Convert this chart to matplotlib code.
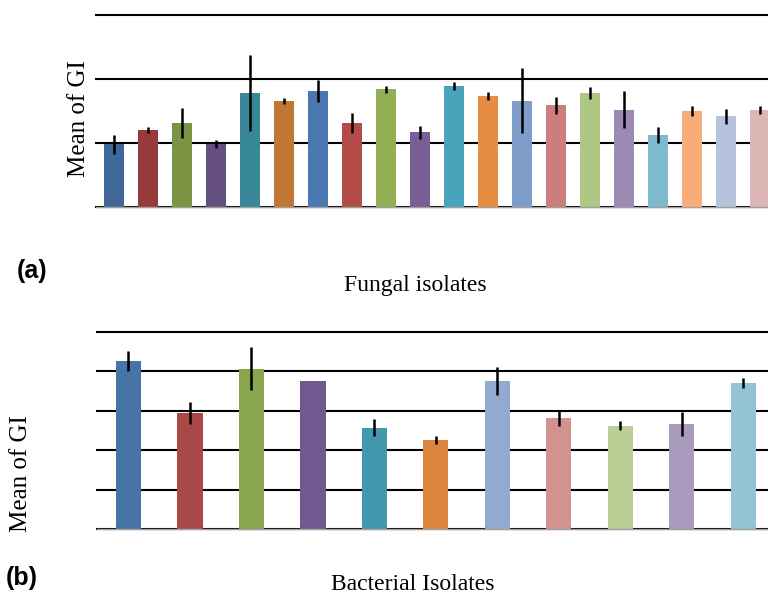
import matplotlib
matplotlib.use("Agg")
import matplotlib.pyplot as plt
import numpy as np

# Fungal isolates (panel a)
fungal_means = [0.98, 1.20, 1.31, 0.98, 1.78, 1.66, 1.81, 1.31, 1.84, 1.17,
                1.89, 1.73, 1.66, 1.59, 1.78, 1.52, 1.125, 1.50, 1.42, 1.52]
fungal_err = [0.145, 0.047, 0.23, 0.06, 0.60, 0.05, 0.175, 0.16, 0.055, 0.10,
              0.057, 0.06, 0.51, 0.13, 0.094, 0.29, 0.13, 0.083, 0.117, 0.06]
fungal_colors = ["#3F6797", "#953B39", "#7A9443", "#654F80", "#39889A",
                 "#C27633", "#4A78B0", "#B34B49", "#93AF54", "#7A5E98",
                 "#48A3BB", "#E78D41", "#7F9DC9", "#CB7E7D", "#AFC785",
                 "#9C8AB5", "#7EBACE", "#F8AC79", "#B5C3DD", "#DDB7B6"]

# Bacterial isolates (panel b)
bact_means = [4.27, 2.95, 4.07, 3.76, 2.57, 2.26, 3.76, 2.82, 2.62, 2.67, 3.71]
bact_err = [0.254, 0.275, 0.55, 0.0, 0.21, 0.11, 0.36, 0.21, 0.11, 0.31, 0.127]
bact_colors = ["#4674A6", "#A84947", "#89A54E", "#71598F", "#4298AF",
               "#DB843E", "#94A9CF", "#D29290", "#B9CF95", "#A89BBE", "#93C4D4"]

fig = plt.figure(figsize=(7.68, 6.05), dpi=100)
serif = "Liberation Serif"
sans = "Liberation Sans"

def style(ax, ymax):
    ax.set_ylim(0, ymax)
    ax.set_yticks(np.arange(0, ymax + 1))
    ax.set_xticks([])
    ax.tick_params(axis="y", length=0, labelleft=False)
    ax.yaxis.grid(True, color="black", linewidth=1.5)
    for gl in ax.get_ygridlines():
        gl.set_clip_on(False)
    ax.set_axisbelow(True)
    for s in ["top", "left", "right"]:
        ax.spines[s].set_visible(False)
    ax.spines["bottom"].set_color("#A0A0A0")
    ax.spines["bottom"].set_linewidth(1.0)

# Top panel
ax1 = fig.add_axes([96 / 768, (605 - 207) / 605, 681 / 768, 192 / 605])
x1 = np.arange(len(fungal_means))
ax1.bar(x1, fungal_means, width=0.59, color=fungal_colors, zorder=2)
ax1.errorbar(x1, fungal_means, yerr=fungal_err, fmt="none", ecolor="black",
             elinewidth=1.8, capsize=0, zorder=3)
ax1.set_xlim(-0.53, 19.5)
style(ax1, 3)

# Bottom panel
ax2 = fig.add_axes([97 / 768, (605 - 529) / 605, 677 / 768, 197 / 605])
x2 = np.arange(len(bact_means))
ax2.bar(x2, bact_means, width=0.41, color=bact_colors, zorder=2)
ax2.errorbar(x2, bact_means, yerr=bact_err, fmt="none", ecolor="black",
             elinewidth=1.8, capsize=0, zorder=3)
ax2.set_xlim(-0.512, 10.5)
style(ax2, 5)

fig.text(79 / 768, 1 - 119 / 605, "Mean of GI", family=serif, fontsize=18,
         rotation=90, ha="center", va="center")
fig.text(21 / 768, 1 - 474 / 605, "Mean of GI", family=serif, fontsize=18,
         rotation=90, ha="center", va="center")

fig.text(32 / 768, 1 - 271 / 605, "(a)", family=sans, fontsize=18,
         fontweight="bold", ha="center", va="center")
fig.text(415 / 768, 1 - 286 / 605, "Fungal isolates", family=serif,
         fontsize=17, ha="center", va="center")
fig.text(22 / 768, 1 - 578 / 605, "(b)", family=sans, fontsize=18,
         fontweight="bold", ha="center", va="center")
fig.text(413 / 768, 1 - 585 / 605, "Bacterial Isolates", family=serif,
         fontsize=17, ha="center", va="center")

fig.savefig("out.png", dpi=100)
